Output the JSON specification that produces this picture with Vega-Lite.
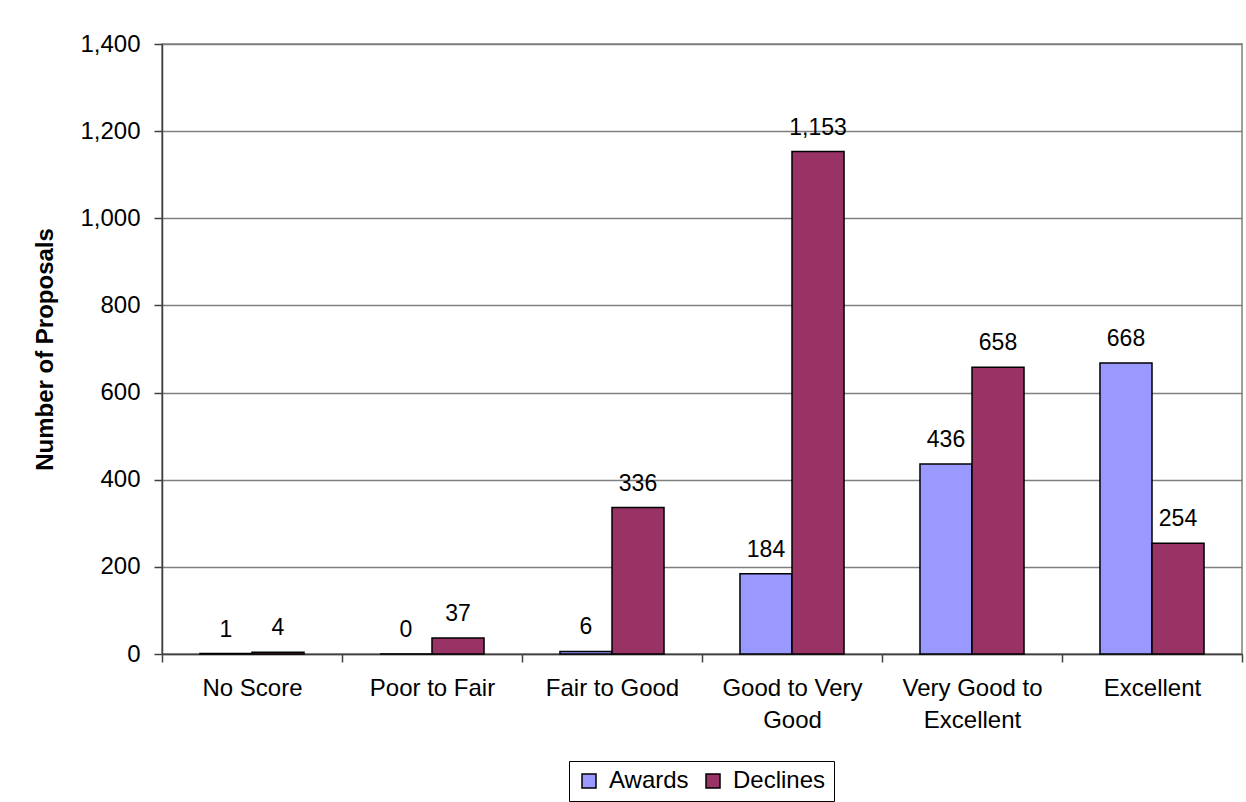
{
  "$schema": "https://vega.github.io/schema/vega-lite/v6.json",
  "width": 1080,
  "height": 610,
  "autosize": {"type": "none"},
  "padding": {"left": 162, "top": 44, "right": 4, "bottom": 148},
  "background": "white",
  "config": {
    "font": "Liberation Sans",
    "view": {"stroke": "#808080", "strokeWidth": 1.5}
  },
  "data": {
    "values": [
      {"score": "No Score", "series": "Awards", "count": 1},
      {"score": "No Score", "series": "Declines", "count": 4},
      {"score": "Poor to Fair", "series": "Awards", "count": 0},
      {"score": "Poor to Fair", "series": "Declines", "count": 37},
      {"score": "Fair to Good", "series": "Awards", "count": 6},
      {"score": "Fair to Good", "series": "Declines", "count": 336},
      {"score": "Good to Very Good", "series": "Awards", "count": 184},
      {"score": "Good to Very Good", "series": "Declines", "count": 1153},
      {"score": "Very Good to Excellent", "series": "Awards", "count": 436},
      {"score": "Very Good to Excellent", "series": "Declines", "count": 658},
      {"score": "Excellent", "series": "Awards", "count": 668},
      {"score": "Excellent", "series": "Declines", "count": 254}
    ]
  },
  "encoding": {
    "x": {
      "field": "score",
      "type": "nominal",
      "sort": null,
      "scale": {"paddingInner": 0, "paddingOuter": 0},
      "axis": {
        "title": null,
        "labelAngle": 0,
        "labelFontSize": 24,
        "labelColor": "black",
        "labelPadding": 14,
        "labelLineHeight": 32,
        "labelExpr": "datum.value == 'Good to Very Good' ? ['Good to Very', 'Good'] : datum.value == 'Very Good to Excellent' ? ['Very Good to', 'Excellent'] : datum.value",
        "tickBand": "extent",
        "tickSize": 8,
        "tickColor": "#404040",
        "tickWidth": 1.5,
        "domainColor": "#404040",
        "domainWidth": 1.5,
        "grid": false
      }
    },
    "xOffset": {
      "field": "series",
      "type": "nominal",
      "scale": {"paddingInner": 0, "paddingOuter": 0.73}
    },
    "y": {
      "field": "count",
      "type": "quantitative",
      "scale": {"domain": [0, 1400], "nice": false},
      "axis": {
        "title": "Number of Proposals",
        "titleFontSize": 24,
        "titleFontWeight": "bold",
        "titleColor": "black",
        "titlePadding": 22,
        "values": [0, 200, 400, 600, 800, 1000, 1200, 1400],
        "format": ",d",
        "labelFontSize": 24,
        "labelColor": "black",
        "labelPadding": 14,
        "tickSize": 8,
        "tickColor": "#404040",
        "tickWidth": 1.5,
        "domainColor": "#404040",
        "domainWidth": 1.5,
        "grid": true,
        "gridColor": "#808080",
        "gridWidth": 1.5
      }
    }
  },
  "layer": [
    {
      "mark": {"type": "bar", "stroke": "black", "strokeWidth": 1.5},
      "encoding": {
        "color": {
          "field": "series",
          "type": "nominal",
          "scale": {"domain": ["Awards", "Declines"], "range": ["#9999FF", "#993366"]},
          "legend": {
            "title": null,
            "orient": "none",
            "legendX": 407,
            "legendY": 717,
            "direction": "horizontal",
            "strokeColor": "black",
            "padding": 8,
            "symbolType": "square",
            "symbolSize": 196,
            "symbolStrokeColor": "black",
            "symbolStrokeWidth": 1.5,
            "labelFontSize": 24,
            "labelColor": "black",
            "columnPadding": 12,
            "labelOffset": 8
          }
        }
      }
    },
    {
      "mark": {"type": "text", "fontSize": 23, "baseline": "alphabetic", "dy": -17, "color": "black"},
      "encoding": {
        "text": {"field": "count", "type": "quantitative", "format": ",d"}
      }
    }
  ]
}
